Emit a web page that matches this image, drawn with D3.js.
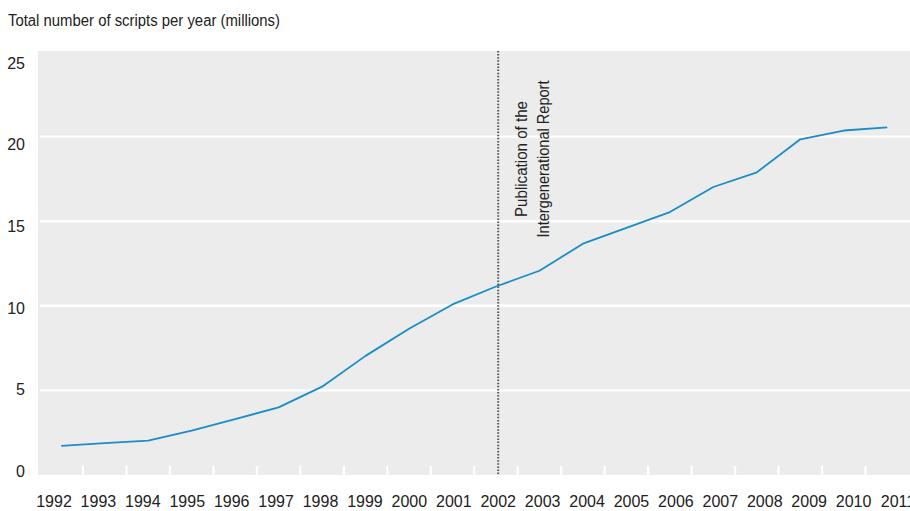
<!DOCTYPE html>
<html>
<head>
<meta charset="utf-8">
<script src="https://cdn.jsdelivr.net/npm/d3@7"></script>
<style>
  body { margin: 0; background: #fff; }
  svg text { font-family: "Liberation Sans", Arial, sans-serif; font-size: 16px; fill: #222; }
</style>
</head>
<body>
<svg id="chart" width="910" height="511"></svg>
<script>
const years = [1992, 1993, 1994, 1995, 1996, 1997, 1998, 1999, 2000, 2001,
  2002, 2003, 2004, 2005, 2006, 2007, 2008, 2009, 2010, 2011];
const scripts = [1.72, 1.88, 2.03, 2.62, 3.3, 4.0, 5.22, 7.04, 8.64, 10.08,
  11.14, 12.07, 13.67, 14.6, 15.54, 17.02, 17.89, 19.84, 20.36, 20.55];
const yTicks = [0, 5, 10, 15, 20, 25];
const gridValues = [5, 10, 15, 20];
const markerYear = 2002;
const titleText = 'Total number of scripts per year (millions)';
const noteLines = ['Publication of the', 'Intergenerational Report'];

const svg = d3.select('#chart');

const plot = { left: 38, right: 910, top: 51, bottom: 475 };

const x = d3.scaleBand().domain(years).range([39.5, 909]).padding(0);
const xLabel = d3.scalePoint().domain(years).range([54, 898]);
const y = d3.scaleLinear().domain([0, 25]).range([475, 52]);
const yLabel = d3.scaleLinear().domain([0, 25]).range([471, 63]);

svg.append('rect')
  .attr('x', plot.left)
  .attr('y', plot.top)
  .attr('width', plot.right - plot.left)
  .attr('height', plot.bottom - plot.top)
  .attr('fill', '#ececec');

// white horizontal grid lines
svg.append('g')
  .selectAll('line')
  .data(gridValues)
  .enter().append('line')
  .attr('x1', 40)
  .attr('x2', plot.right)
  .attr('y1', d => y(d))
  .attr('y2', d => y(d))
  .attr('stroke', '#fff')
  .attr('stroke-width', 2.4);

// white tick marks between years along the bottom
svg.append('g')
  .selectAll('line')
  .data(years.slice(1))
  .enter().append('line')
  .attr('x1', d => x(d))
  .attr('x2', d => x(d))
  .attr('y1', plot.bottom - 9)
  .attr('y2', plot.bottom)
  .attr('stroke', '#fff')
  .attr('stroke-width', 2.2);

// y labels
svg.append('g')
  .selectAll('text')
  .data(yTicks)
  .enter().append('text')
  .attr('x', 25)
  .attr('y', d => yLabel(d))
  .attr('dy', '0.36em')
  .attr('text-anchor', 'end')
  .text(d => d);

// x labels
svg.append('g')
  .selectAll('text')
  .data(years)
  .enter().append('text')
  .attr('x', d => xLabel(d))
  .attr('y', 506.5)
  .attr('text-anchor', 'middle')
  .text(d => d);

// title
svg.append('text')
  .attr('x', 8)
  .attr('y', 25.5)
  .attr('textLength', 272)
  .attr('lengthAdjust', 'spacingAndGlyphs')
  .text(titleText);

// dotted marker line
svg.append('line')
  .attr('x1', xLabel(markerYear))
  .attr('x2', xLabel(markerYear))
  .attr('y1', plot.top)
  .attr('y2', plot.bottom)
  .attr('stroke', '#555')
  .attr('stroke-width', 2)
  .attr('stroke-dasharray', '1.5,1.6');

// rotated annotation
const noteLengths = [116, 157];
svg.append('g')
  .selectAll('text')
  .data(noteLines)
  .enter().append('text')
  .attr('transform', (d, i) => `translate(${526.5 + 22 * i},159) rotate(-90)`)
  .attr('text-anchor', 'middle')
  .attr('textLength', (d, i) => noteLengths[i])
  .attr('lengthAdjust', 'spacingAndGlyphs')
  .text(d => d);

// data line
const line = d3.line()
  .x((d, i) => x(years[i]) + x.bandwidth() / 2)
  .y(d => y(d));

svg.append('path')
  .datum(scripts)
  .attr('d', line)
  .attr('fill', 'none')
  .attr('stroke', '#1a8dc6')
  .attr('stroke-width', 1.8)
  .attr('stroke-linejoin', 'round');
</script>
</body>
</html>
